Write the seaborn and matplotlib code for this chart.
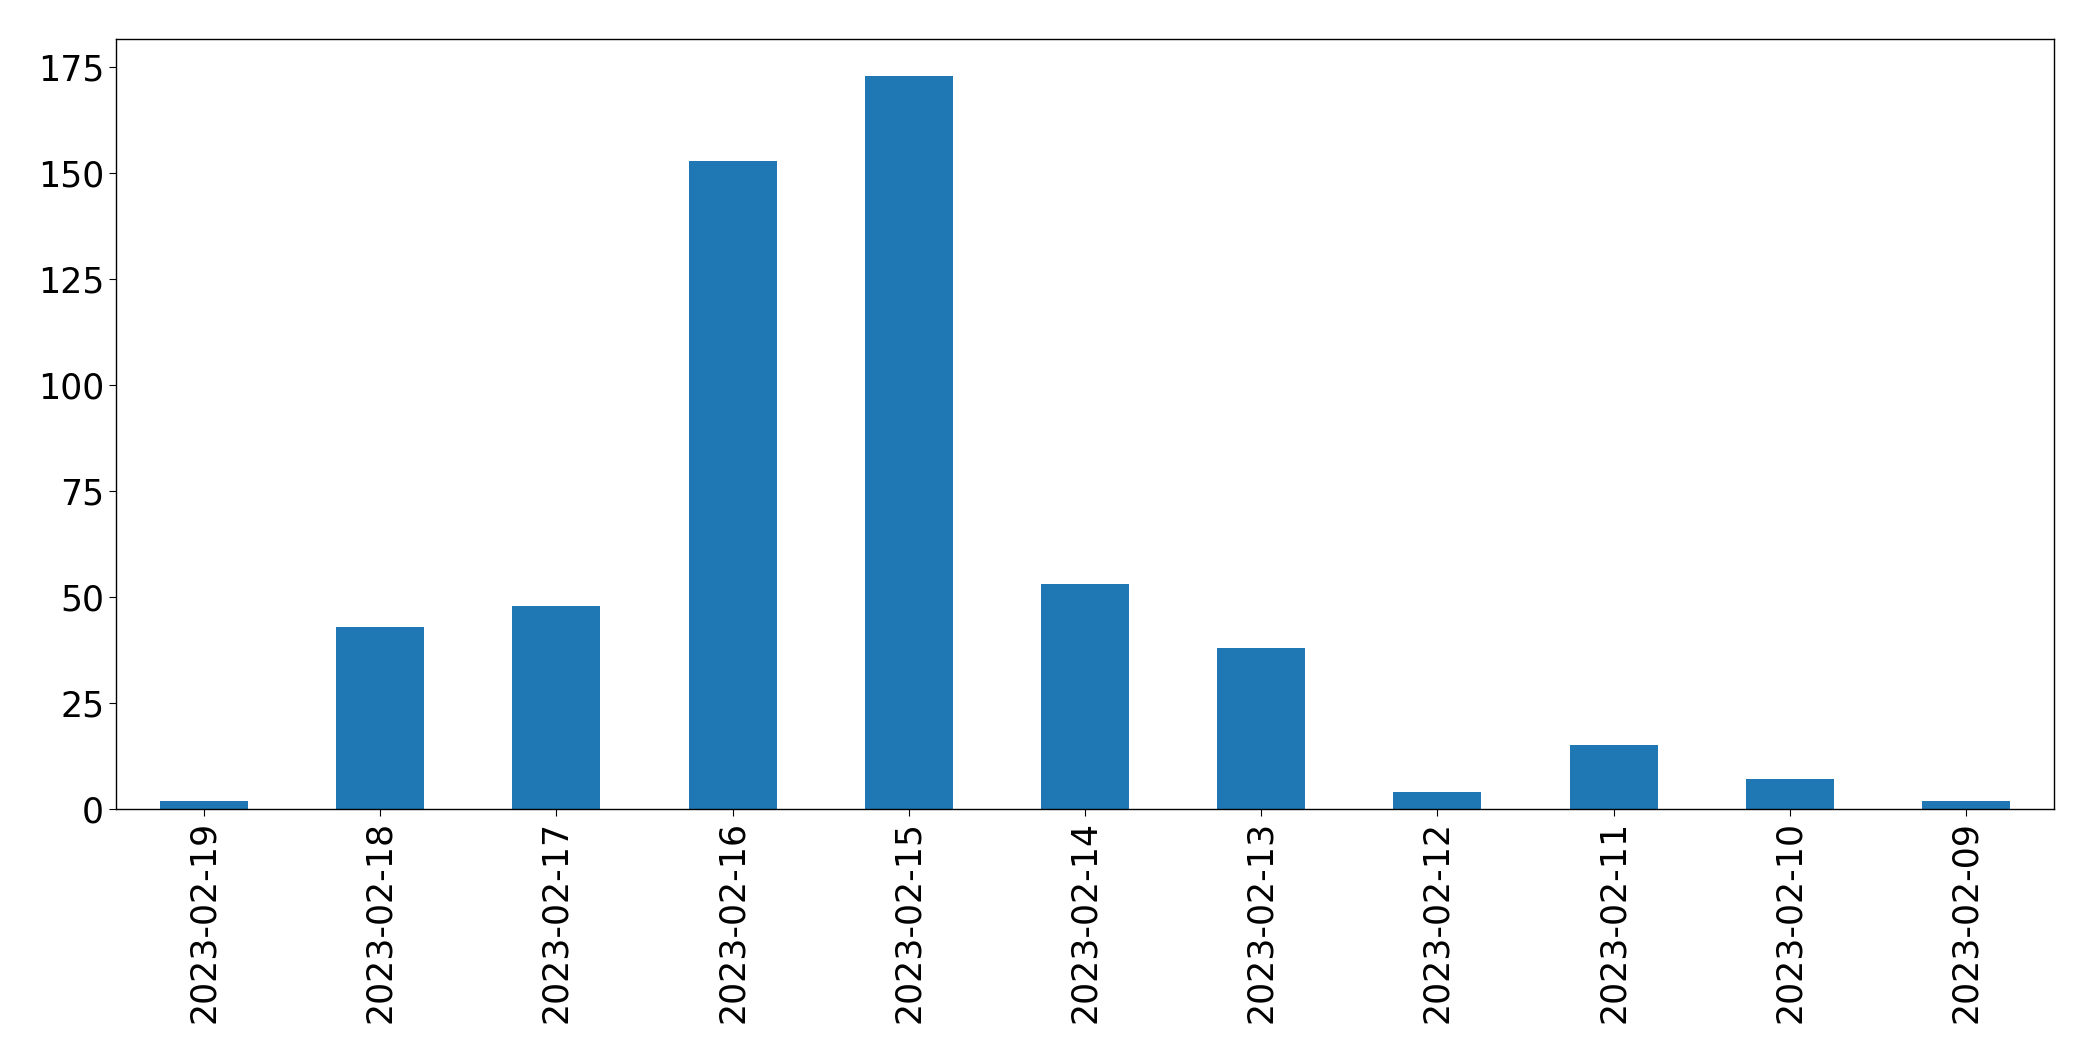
import pandas as pd
import seaborn as sns
import matplotlib.pyplot as plt

dates = ['2023-02-19', '2023-02-18', '2023-02-17', '2023-02-16', '2023-02-15', '2023-02-14',
         '2023-02-13', '2023-02-12', '2023-02-11', '2023-02-10', '2023-02-09']
counts = [2, 43, 48, 153, 173, 53, 38, 4, 15, 7, 2]

sns.set_style('ticks')
plt.rcParams['font.family'] = ['DejaVu Sans']
plt.rcParams['text.color'] = 'black'
plt.rcParams['xtick.color'] = 'black'
plt.rcParams['ytick.color'] = 'black'

data = pd.DataFrame({'date': dates, 'count': counts})

fig = plt.figure(figsize=(20.93, 10.61), dpi=100)
ax = fig.add_axes([0.0554, 0.2375, 0.926, 0.7255])

sns.barplot(data=data, x='date', y='count', order=dates, color='#1f77b4',
            saturation=1, width=0.5, linewidth=0, ax=ax)
ax.set_xlim(-0.5, len(dates) - 0.5)
ax.set_ylim(0, max(counts) * 1.05)
ax.set_yticks([0, 25, 50, 75, 100, 125, 150, 175])
ax.set_xlabel('')
ax.set_ylabel('')
ax.tick_params(axis='x', labelrotation=90, labelsize=25, length=5, colors='black')
ax.tick_params(axis='y', labelsize=25, length=5, colors='black')
for s in ax.spines.values():
    s.set_visible(True)
    s.set_color('black')
    s.set_linewidth(1)

fig.savefig('out.png', dpi=100)
